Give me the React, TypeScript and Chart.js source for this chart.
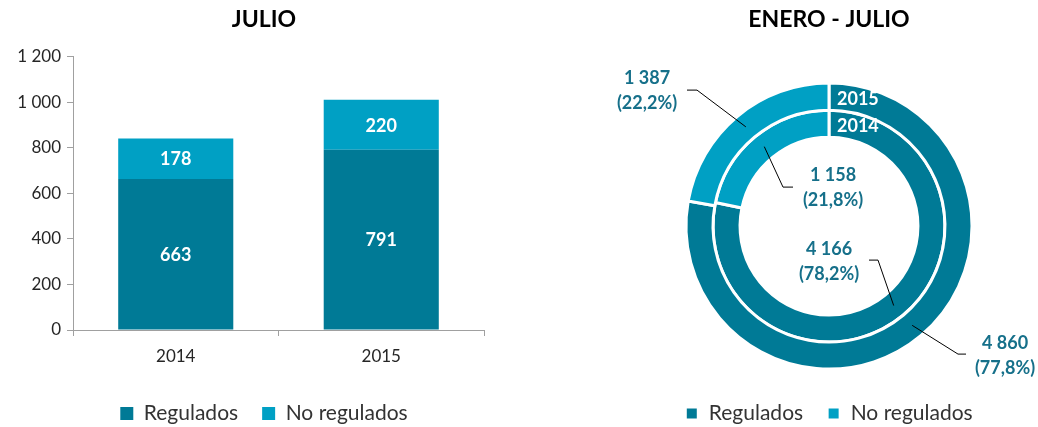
import React, { useEffect, useRef } from "react";
import { Chart, registerables } from "chart.js";

Chart.register(...registerables);

// ---------- data ----------
const years = ["2014", "2015"];
const regulados = [663, 791];
const noRegulados = [178, 220];
const seriesNames = ["Regulados", "No regulados"];
const yMax = 1200;
const yStep = 200;

const ringYears = ["2015", "2014"]; // outer ring first
const ytdRegulados = [4860, 4166];
const ytdNoRegulados = [1387, 1158];

// ---------- styles ----------
const DARK = "#007A96";
const LIGHT = "#00A0C4";
const LABEL_TEAL = "#16708A";
const AXIS = "#A0A0A0";
const FONT = "Lato, 'Open Sans', sans-serif";

const fmt = (n: number) => String(n).replace(/\B(?=(\d{3})+(?!\d))/g, " ");
const pct = (a: number, b: number) => ((a / (a + b)) * 100).toFixed(1).replace(".", ",") + "%";

// leader-line layout, offsets from doughnut centre: [ring][segment]
const leaderLayout = [
  [
    { elbow: [129, 128], end: [137, 128], text: [176, 117] },
    { elbow: [-132, -136], end: [-142, -136], text: [-182, -148] },
  ],
  [
    { elbow: [49, 34], end: [40, 34], text: [0, 23] },
    { elbow: [-46, -39], end: [-36, -39], text: [4, -51] },
  ],
];

const barLabels = {
  id: "barLabels",
  afterDatasetsDraw(chart: any) {
    const ctx = chart.ctx;
    ctx.save();
    ctx.fillStyle = "#fff";
    ctx.font = `bold 18px ${FONT}`;
    ctx.textAlign = "center";
    ctx.textBaseline = "middle";
    chart.data.datasets.forEach((ds: any, i: number) => {
      const meta = chart.getDatasetMeta(i);
      meta.data.forEach((bar: any, j: number) => {
        const p = bar.getProps(["x", "y", "base"], true);
        ctx.fillText(fmt(ds.data[j]), p.x, (p.y + p.base) / 2 + 1);
      });
    });
    ctx.restore();
  },
};

const donutLabels = {
  id: "donutLabels",
  afterDatasetsDraw(chart: any) {
    const ctx = chart.ctx;
    ctx.save();
    chart.data.datasets.forEach((ds: any, i: number) => {
      const meta = chart.getDatasetMeta(i);
      const a0 = meta.data[0];
      const cx = a0.x;
      const cy = a0.y;
      const mid = (a0.innerRadius + a0.outerRadius) / 2;
      // ring year label
      ctx.fillStyle = "#fff";
      ctx.font = `bold 18px ${FONT}`;
      ctx.textAlign = "left";
      ctx.textBaseline = "middle";
      ctx.fillText(ds.label, cx + 8, cy - mid + 3);
      const vals = ds.data as number[];
      meta.data.forEach((arc: any, j: number) => {
        const L = leaderLayout[i][j];
        const c = arc.getCenterPoint();
        ctx.strokeStyle = "#000";
        ctx.lineWidth = 1;
        ctx.beginPath();
        ctx.moveTo(c.x, c.y);
        ctx.lineTo(cx + L.elbow[0], cy + L.elbow[1]);
        ctx.lineTo(cx + L.end[0], cy + L.end[1]);
        ctx.stroke();
        ctx.fillStyle = LABEL_TEAL;
        ctx.font = `bold 18px ${FONT}`;
        ctx.textAlign = "center";
        ctx.textBaseline = "middle";
        const other = vals[1 - j];
        ctx.fillText(fmt(vals[j]), cx + L.text[0], cy + L.text[1]);
        ctx.fillText("(" + pct(vals[j], other) + ")", cx + L.text[0], cy + L.text[1] + 25);
      });
    });
    ctx.restore();
  },
};

export default function App() {
  const barRef = useRef<HTMLCanvasElement>(null);
  const donutRef = useRef<HTMLCanvasElement>(null);

  useEffect(() => {
    const legendLabels = {
      font: { family: FONT, size: 21 },
      color: "#333",
      boxWidth: 13,
      boxHeight: 13,
      padding: 24,
    };
    const titleFont = { family: FONT, size: 23, weight: "bold" };
    const bar = new Chart(barRef.current!, {
      type: "bar",
      data: {
        labels: years,
        datasets: [
          { label: seriesNames[0], data: regulados, backgroundColor: DARK, borderWidth: 0, barPercentage: 0.56, categoryPercentage: 1 },
          { label: seriesNames[1], data: noRegulados, backgroundColor: LIGHT, borderWidth: 0, barPercentage: 0.56, categoryPercentage: 1 },
        ],
      },
      options: {
        responsive: false,
        animation: false,
        layout: { padding: 0 },
        plugins: {
          title: {
            display: true,
            text: "JULIO",
            color: "#000",
            font: titleFont as any,
            padding: { top: 6, bottom: 23 },
          },
          legend: { position: "bottom", labels: legendLabels as any },
          tooltip: { enabled: false },
        },
        scales: {
          x: {
            stacked: true,
            grid: { drawOnChartArea: false, tickLength: 6, color: AXIS },
            border: { color: AXIS },
            ticks: { font: { family: FONT, size: 17 }, color: "#262626", padding: 10 },
            afterFit: (s: any) => { s.height = 49; },
          },
          y: {
            stacked: true,
            min: 0,
            max: yMax,
            grid: { drawOnChartArea: false, tickLength: 6, color: AXIS },
            border: { color: AXIS },
            ticks: { stepSize: yStep, font: { family: FONT, size: 17 }, color: "#262626", padding: 6, callback: (v: any) => fmt(Number(v)) },
            afterFit: (s: any) => { s.width = 73; },
          },
          yRight: {
            position: "right",
            min: 0,
            max: yMax,
            grid: { display: false },
            border: { display: false },
            ticks: { display: false },
            afterFit: (s: any) => { s.width = 44; },
          },
        },
      },
      plugins: [barLabels],
    });

    const donut = new Chart(donutRef.current!, {
      type: "doughnut",
      data: {
        labels: seriesNames,
        datasets: ringYears.map((y, i) => ({
          label: y,
          data: [ytdRegulados[i], ytdNoRegulados[i]],
          backgroundColor: [DARK, LIGHT],
          borderColor: "#fff",
          borderWidth: 3,
        })),
      },
      options: {
        responsive: false,
        animation: false,
        radius: 143,
        cutout: "62.2%",
        layout: { padding: 0 },
        plugins: {
          title: {
            display: true,
            text: "ENERO - JULIO",
            color: "#000",
            font: titleFont as any,
            padding: { top: 6, bottom: 39.6 },
          },
          legend: { position: "bottom", labels: legendLabels as any },
          tooltip: { enabled: false },
        },
      } as any,
      plugins: [donutLabels],
    });

    return () => {
      bar.destroy();
      donut.destroy();
    };
  }, []);

  return (
    <div style={{ position: "fixed", left: 0, top: 0, width: 1038, height: 427, overflow: "hidden", background: "#fff" }}>
      <canvas ref={barRef} width={528} height={434} style={{ position: "absolute", left: 0, top: 0 }} />
      <canvas ref={donutRef} width={458} height={434} style={{ position: "absolute", left: 600, top: 0 }} />
    </div>
  );
}
